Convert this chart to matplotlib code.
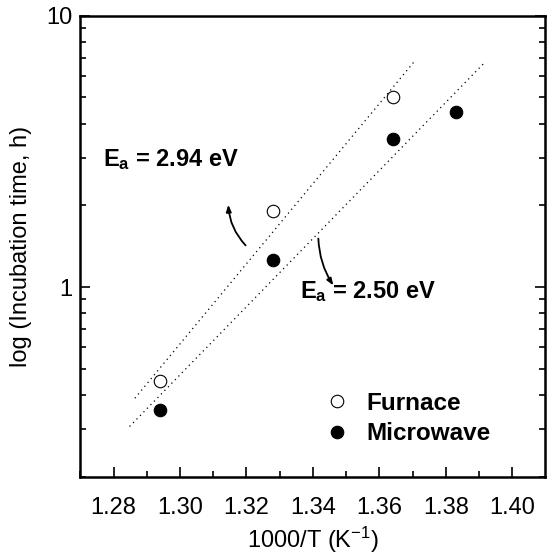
import matplotlib
matplotlib.use("Agg")
import matplotlib.pyplot as plt
from matplotlib.ticker import LogLocator, NullFormatter, FixedLocator

plt.rcParams['font.family'] = ['Liberation Sans', 'DejaVu Sans']
plt.rcParams['mathtext.fontset'] = 'custom'
plt.rcParams['mathtext.rm'] = 'Liberation Sans'
plt.rcParams['mathtext.it'] = 'Liberation Sans:italic'
plt.rcParams['mathtext.bf'] = 'Liberation Sans:bold'

# data
furnace_x = [1.294, 1.328, 1.364]
furnace_t = [0.451, 1.90, 5.0]
micro_x = [1.294, 1.328, 1.364, 1.383]
micro_t = [0.353, 1.254, 3.50, 4.43]

# dotted fit lines (end points)
fit_furnace_x = [1.2864, 1.3708]
fit_furnace_t = [0.389, 6.85]
fit_micro_x = [1.2848, 1.3913]
fit_micro_t = [0.306, 6.65]

x_ticks = [1.28, 1.30, 1.32, 1.34, 1.36, 1.38, 1.40]

FIG = plt.figure(figsize=(5.48, 5.54), dpi=100)
AX = FIG.add_axes([0.1467, 0.1397, 0.8487, 0.8318])

AX.plot(fit_furnace_x, fit_furnace_t, ls=(0, (1, 3)), color='k', lw=0.9)
AX.plot(fit_micro_x, fit_micro_t, ls=(0, (1, 3)), color='k', lw=0.9)
AX.plot(furnace_x, furnace_t, 'o', ms=9, mfc='white', mec='k', mew=0.8,
        ls='none', label='Furnace')
AX.plot(micro_x, micro_t, 'o', ms=9, mfc='k', mec='k', mew=0.8,
        ls='none', label='Microwave')

AX.set_yscale('log')
AX.set_xlim(1.27, 1.41)
AX.set_ylim(0.2, 10)
AX.xaxis.set_major_locator(FixedLocator(x_ticks))
AX.xaxis.set_minor_locator(FixedLocator([1.27 + 0.02 * i for i in range(7)]))
AX.set_xticklabels(['%.2f' % v for v in x_ticks])
AX.yaxis.set_minor_locator(LogLocator(base=10, subs=range(2, 10), numticks=20))
AX.yaxis.set_minor_formatter(NullFormatter())
AX.set_yticks([1, 10])
AX.set_yticklabels(['1', '10'])

AX.tick_params(which='both', direction='in', left=True, right=True,
               top=False, bottom=True, width=1.2, labelsize=17)
AX.tick_params(axis='x', which='major', pad=15)
AX.tick_params(axis='y', which='major', pad=6)
AX.tick_params(which='major', length=7)
AX.tick_params(which='minor', length=4)
for sp in AX.spines.values():
    sp.set_linewidth(1.8)

AX.set_xlabel('1000/T (K$^{-1}$)', fontsize=17, labelpad=4)
AX.set_ylabel('log (Incubation time, h)', fontsize=17, labelpad=10)

AX.text(1.2972, 2.95, r'$\mathbf{E_a}$ = 2.94 eV', fontsize=17,
        fontweight='bold', ha='center', va='center')
AX.text(1.3567, 0.96, r'$\mathbf{E_a}$ = 2.50 eV', fontsize=17,
        fontweight='bold', ha='center', va='center')

AX.annotate('', xy=(1.3145, 2.06), xytext=(1.3203, 1.40),
            arrowprops=dict(arrowstyle='-|>,head_width=0.15,head_length=0.4',
                            color='k', lw=1.3,
                            connectionstyle='arc3,rad=-0.2'))
AX.annotate('', xy=(1.3466, 0.994), xytext=(1.3416, 1.545),
            arrowprops=dict(arrowstyle='-|>,head_width=0.15,head_length=0.4',
                            color='k', lw=1.3,
                            connectionstyle='arc3,rad=0.15'))

AX.legend(loc='upper left', bbox_to_anchor=(0.5, 0.205), frameon=False,
          prop={'weight': 'bold', 'size': 17.5}, handletextpad=0.6,
          labelspacing=0.3, borderaxespad=0, handlelength=1.2)

FIG.savefig('out.png', dpi=100)
